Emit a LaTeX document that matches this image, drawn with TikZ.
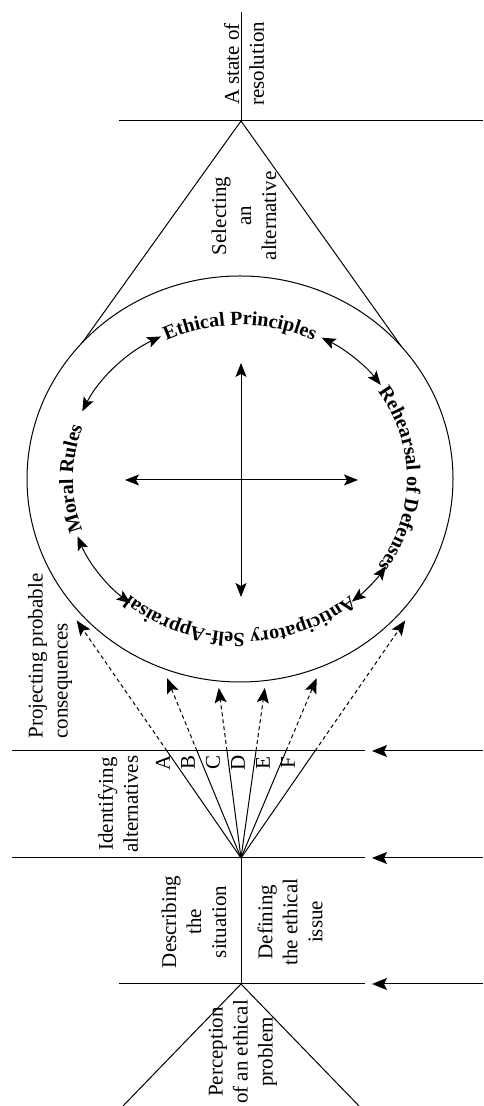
\documentclass[tikz,border=0pt]{standalone}
\usepackage{fontspec}
\setmainfont{Liberation Serif}
\usetikzlibrary{positioning,arrows.meta,calc,decorations.text}
\newcommand{\stagefont}{\fontsize{10.5}{12.5}\selectfont}
\newcommand{\ringfont}{\fontsize{10}{12}\selectfont\bfseries}
\tikzset{
  line/.style={draw=black,line width=0.5pt},
  flow/.style={line,-{Stealth[length=7.5pt,width=6pt,inset=1.5pt]}},
  twoway/.style={line,{Stealth[length=7pt,width=5.5pt,inset=1.5pt]}-{Stealth[length=7pt,width=5.5pt,inset=1.5pt]}},
  guess/.style={flow,dash pattern=on 2pt off 1.5pt},
  stage/.style={rotate=90,align=center,font=\stagefont,inner sep=0pt},
  ringtext/.style={decorate,decoration={text along path,text align=center,text={|\ringfont|#1}}},
}
\begin{document}
\begin{tikzpicture}[x=0.5pt,y=0.5pt]
  \useasboundingbox (0,0) rectangle (483,1106);
  \coordinate (top) at (241,985);
  \coordinate (goal) at (241,1094);
  \coordinate (topw) at (119,985);
  \coordinate (tope) at (483,985);
  \coordinate (ring) at (240,627);
  \coordinate (fan) at (241,248);
  \coordinate (base) at (241,122);
  \coordinate (tl) at ($(ring)+(137.7:213 and 203)$);
  \coordinate (tr) at ($(ring)+(40.7:213 and 203)$);
  \coordinate (bl) at (123,0);
  \coordinate (br) at (359,0);
  \node[stage] (resolve) at (244,1042) {A state of\\resolution};
  \node[stage] (select) at (244,890) {Selecting\\an\\alternative};
  \node[stage,anchor=west,align=left] (project) at (50,367) {Projecting probable\\consequences};
  \node[stage] (identify) at (118,302) {Identifying\\alternatives};
  \node[stage] (describe) at (194,184) {Describing\\the\\situation};
  \node[stage] (define) at (290,184) {Defining\\the ethical\\issue};
  \node[stage] (perceive) at (243,54) {Perception\\of an ethical\\problem};
  \draw[line] (top) -- (goal);
  \draw[line] (topw) -- (tope);
  \draw[line] (tl) -- (top) -- (tr);
  \draw[line] (ring) ellipse[x radius=213,y radius=203];
  \path[ringtext=Ethical Principles] ($(ring)+(140:167 and 154)$) arc[start angle=140,end angle=40,x radius=167,y radius=154];
  \path[ringtext=Rehearsal of Defenses] ($(ring)+(50:167 and 154)$) arc[start angle=50,end angle=-50,x radius=167,y radius=154];
  \path[ringtext=Anticipatory Self-Appraisal] ($(ring)+(330:167 and 154)$) arc[start angle=330,end angle=210,x radius=167,y radius=154];
  \path[ringtext=Moral Rules] ($(ring)+(230:167 and 154)$) arc[start angle=230,end angle=130,x radius=167,y radius=154];
  \draw[twoway] ($(ring)+(117:174 and 160)$) arc[start angle=117,end angle=155,x radius=174,y radius=160];
  \draw[twoway] ($(ring)+(62:174 and 160)$) arc[start angle=62,end angle=36,x radius=174,y radius=160];
  \draw[twoway] ($(ring)+(201:174 and 160)$) arc[start angle=201,end angle=231,x radius=174,y radius=160];
  \draw[twoway] ($(ring)+(-33:174 and 160)$) arc[start angle=-33,end angle=-50,x radius=174,y radius=160];
  \coordinate (up) at (241,743);
  \coordinate (down) at (241,509);
  \coordinate (left) at (125,626);
  \coordinate (right) at (358,626);
  \draw[twoway] (down) -- (up);
  \draw[twoway] (left) -- (right);
  \coordinate (l1w) at (12,355);
  \coordinate (l1e) at (365,355);
  \coordinate (l2w) at (12,248);
  \coordinate (l2e) at (365,248);
  \coordinate (l3w) at (119,122);
  \coordinate (l3e) at (365,122);
  \draw[line] (l1w) -- (l1e);
  \draw[line] (l2w) -- (l2e);
  \draw[line] (l3w) -- (l3e);
  \foreach \y [count=\i] in {355,248,122} {
    \coordinate (in\i) at (483,\y);
    \coordinate (to\i) at (372,\y);
    \draw[flow] (in\i) -- (to\i);
  }
  \draw[line] (fan) -- (base);
  \draw[line] (bl) -- (base) -- (br);
  \foreach \x/\t [count=\i] in {167/2.22,197/1.68,227/1.59,256/1.59,286/1.68,315/2.22} {
    \coordinate (alt\i) at (\x,355);
    \draw[line] (fan) -- (alt\i);
    \draw[guess] (alt\i) -- ($(fan)!\t!(alt\i)$);
  }
  \foreach \l [count=\i from 0] in {A,B,C,D,E,F} {
    \node[stage] (opt\l) at (163+25*\i,343) {\l};
  }
\end{tikzpicture}
\end{document}
